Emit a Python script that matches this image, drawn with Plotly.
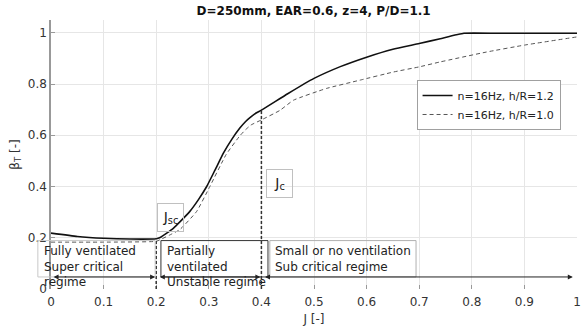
import numpy as np
import plotly.graph_objects as go

# ---- data ----
J_hR12 = [0, 0.05, 0.10, 0.15, 0.20, 0.205, 0.21, 0.22, 0.233, 0.245, 0.264, 0.28, 0.296,
          0.312, 0.328, 0.344, 0.359, 0.37, 0.38, 0.39, 0.40, 0.45, 0.50, 0.55, 0.60,
          0.65, 0.70, 0.74, 0.785, 0.85, 1.0]
beta_hR12 = [0.218, 0.205, 0.198, 0.195, 0.196, 0.199, 0.204, 0.218, 0.238, 0.262, 0.303,
             0.348, 0.400, 0.465, 0.531, 0.585, 0.628, 0.654, 0.672, 0.687, 0.698, 0.762,
             0.822, 0.868, 0.905, 0.936, 0.958, 0.977, 0.998, 0.998, 0.998]

J_hR10 = [0, 0.10, 0.20, 0.207, 0.225, 0.245, 0.277, 0.302, 0.333, 0.359, 0.37, 0.38,
          0.40, 0.435, 0.461, 0.524, 0.587, 0.651, 0.70, 0.739, 0.828, 0.90, 1.0]
beta_hR10 = [0.183, 0.183, 0.186, 0.192, 0.210, 0.232, 0.303, 0.400, 0.525, 0.598, 0.622,
             0.640, 0.660, 0.697, 0.737, 0.783, 0.815, 0.847, 0.867, 0.886, 0.925, 0.952, 0.984]

series_names = ["n=16Hz, h/R=1.2", "n=16Hz, h/R=1.0"]

x_ticks = [0, 0.1, 0.2, 0.3, 0.4, 0.5, 0.6, 0.7, 0.8, 0.9, 1.0]
x_tick_labels = ["0", "0.1", "0.2", "0.3", "0.4", "0.5", "0.6", "0.7", "0.8", "0.9", "1"]
y_ticks = [0, 0.2, 0.4, 0.6, 0.8, 1.0]
y_tick_labels = ["0", "0.2", "0.4", "0.6", "0.8", "1"]

J_sc = 0.2
J_c = 0.4
regime_bounds = [0.0, J_sc, J_c, 1.0]
regime_labels = ["Fully ventilated<br>Super critical<br>regime",
                 "Partially<br>ventilated<br>Unstable regime",
                 "Small or no ventilation<br>Sub critical regime"]

title_text = "D=250mm, EAR=0.6, z=4, P/D=1.1"

FONT = "DejaVu Sans"

fig = go.Figure()
fig.add_trace(go.Scatter(x=J_hR12, y=beta_hR12, mode="lines", name=series_names[0],
                         line=dict(color="#111111", width=1.6, shape="spline", smoothing=0.4)))
fig.add_trace(go.Scatter(x=J_hR10, y=beta_hR10, mode="lines", name=series_names[1],
                         line=dict(color="#555555", width=1, dash="4px,3px",
                                   shape="spline", smoothing=0.4)))

shapes = []
annotations = []

# vertical markers at J_sc and J_c
for jv in (J_sc, J_c):
    top = float(np.interp(jv, J_hR12, beta_hR12))
    shapes.append(dict(type="line", xref="x", yref="y", x0=jv, x1=jv, y0=0, y1=top,
                       line=dict(color="#333333", width=1.5, dash="3px,2px")))

# regime boxes
arrow_y = 0.047
box_top = 0.189
box_x = [(-0.025, 0.198), (0.209, 0.4125), (0.416, 0.694)]
box_colors = ["#c8c8c8", "#333333", "#b0b0b0"]
for (bx0, bx1), bc in zip(box_x, box_colors):
    shapes.append(dict(type="rect", xref="paper", yref="y", x0=bx0, x1=bx1,
                       y0=arrow_y, y1=box_top, line=dict(color=bc, width=1)))

text_x = [-0.018, 0.216, 0.423]
for tx, lab in zip(text_x, regime_labels):
    annotations.append(dict(xref="paper", yref="y", x=tx, y=0.183, xanchor="left",
                            yanchor="top", text=lab, showarrow=False, align="left",
                            font=dict(family=FONT, size=12, color="#222222")))

# double-headed arrows along the regimes
arrow_spans = [(regime_bounds[0] + 0.002, regime_bounds[1] - 0.002),
               (regime_bounds[1] + 0.004, regime_bounds[2] - 0.002),
               (regime_bounds[2] + 0.004, regime_bounds[3] - 0.008)]
for a0, a1 in arrow_spans:
    annotations.append(dict(xref="x", yref="y", axref="x", ayref="y", x=a1, y=arrow_y,
                            ax=a0, ay=arrow_y, text="", showarrow=True,
                            arrowside="end+start", arrowhead=2, startarrowhead=2,
                            arrowsize=1, startarrowsize=1, arrowwidth=1,
                            arrowcolor="#222222", standoff=0, startstandoff=0))

# J_sc and J_c labels
for txt, xx, yy in [("J<sub>sc</sub>", 0.2006, 0.280), ("J<sub>c</sub>", 0.435, 0.41)]:
    annotations.append(dict(xref="paper", yref="y", x=xx, y=yy, text=txt, showarrow=False,
                            font=dict(family=FONT, size=14, color="#222222"),
                            bordercolor="#c0c0c0", borderwidth=1, borderpad=2,
                            width=21, height=23, bgcolor="rgba(255,255,255,0)"))

fig.update_layout(
    width=583, height=327,
    margin=dict(l=51, r=6, t=20, b=38, pad=0, autoexpand=False),
    paper_bgcolor="white", plot_bgcolor="white",
    font=dict(family=FONT, size=12, color="#333333"),
    title=dict(text="<b>" + title_text + "</b>", x=0.538, xanchor="center",
               y=1 - 11 / 327, yanchor="middle", automargin=False,
               font=dict(family=FONT, size=12, color="#111111")),
    xaxis=dict(range=[0, 1], tickvals=x_ticks, ticktext=x_tick_labels, automargin=False,
               showgrid=True, gridcolor="#e6e6e6", gridwidth=1, zeroline=False,
               showline=False, ticks="inside", ticklen=4, tickcolor="#999999",
               ticklabelstandoff=4,
               tickfont=dict(family=FONT, size=12, color="#333333"),
               title=dict(text="J [-]", standoff=6,
                          font=dict(family=FONT, size=12, color="#333333"))),
    yaxis=dict(range=[0, 1.05], tickvals=y_ticks, ticktext=y_tick_labels, automargin=False,
               showgrid=True, gridcolor="#e6e6e6", gridwidth=1, zeroline=False,
               showline=True, linecolor="#999999", linewidth=1.5,
               ticks="inside", ticklen=4, tickcolor="#999999",
               tickfont=dict(family=FONT, size=12, color="#333333"),
               title=dict(text="β<sub>T</sub> [-]", standoff=6,
                          font=dict(family=FONT, size=12, color="#333333"))),
    legend=dict(x=0.695, y=0.777, xanchor="left", yanchor="top",
                bgcolor="white", bordercolor="#a0a0a0", borderwidth=1,
                itemwidth=30, tracegroupgap=0,
                font=dict(family=FONT, size=11, color="#222222")),
    shapes=shapes,
    annotations=annotations,
)

fig.write_html("out.html", config={"displayModeBar": False},
               post_script="document.body.style.margin='0';document.body.style.overflow='hidden';")
